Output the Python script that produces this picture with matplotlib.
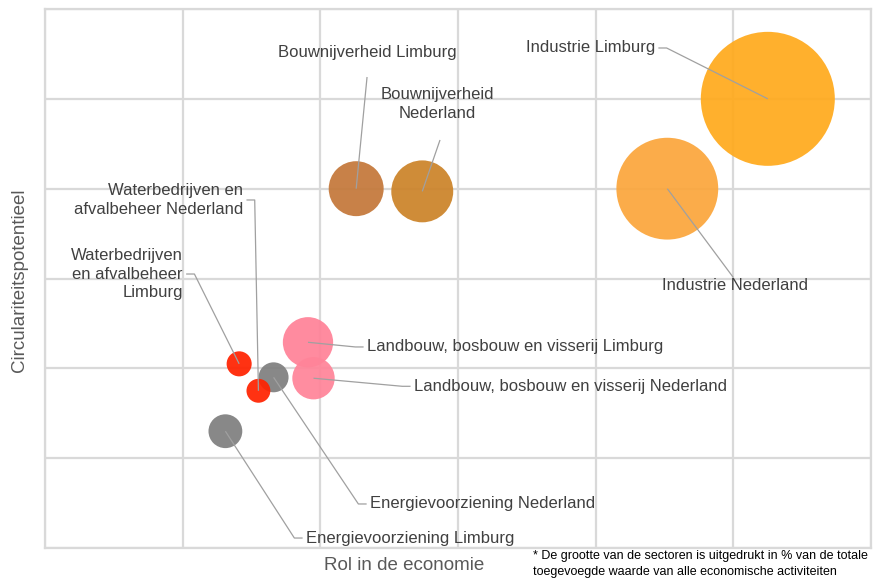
import matplotlib.pyplot as plt
import numpy as np

plt.rcParams["font.family"] = ["Liberation Sans", "DejaVu Sans"]

# Sectoren: rol in de economie (x), circulariteitspotentieel (y), aandeel in toegevoegde waarde (%)
sectoren = [
    "Industrie Limburg",
    "Industrie Nederland",
    "Bouwnijverheid Limburg",
    "Bouwnijverheid\nNederland",
    "Landbouw, bosbouw en visserij Limburg",
    "Landbouw, bosbouw en visserij Nederland",
    "Energievoorziening Nederland",
    "Energievoorziening Limburg",
    "Waterbedrijven\nen afvalbeheer\nLimburg",
    "Waterbedrijven en\nafvalbeheer Nederland",
]
rol = [5.25, 4.52, 2.26, 2.74, 1.91, 1.95, 1.66, 1.31, 1.41, 1.55]
potentieel = [5.0, 4.0, 4.0, 3.97, 2.29, 1.89, 1.90, 1.30, 2.05, 1.75]
aandeel = [22.0, 12.7, 3.7, 4.7, 3.1, 2.2, 1.1, 1.4, 0.77, 0.7]

kleuren = ["#FFAA1D", "#FBA63C", "#C4783A", "#CC8329", "#FF8298",
           "#FF8499", "#7F7F7F", "#7F7F7F", "#FF2200", "#FF2200"]

# label: positie (data), uitlijning, beginpunt leader (None = zijkant met stukje horizontaal)
labels = [
    ((4.43, 5.566), "right", None),
    ((5.01, 2.917), "center", (5.0, 3.01)),
    ((2.339, 5.52), "center", (2.339, 5.243)),
    ((2.847, 4.943), "center", (2.869, 4.542)),
    ((2.339, 2.238), "left", None),
    ((2.68, 1.80), "left", None),
    ((2.361, 0.49), "left", None),
    ((1.896, 0.111), "left", None),
    ((1.0, 3.05), "right", None),
    ((1.438, 3.874), "right", None),
]

fig = plt.figure(figsize=(8.78, 5.81), dpi=100)
ax = fig.add_axes([0.0513, 0.0568, 0.9408, 0.9277])

ax.set_xlim(0, 6)
ax.set_ylim(0, 6)
ax.set_xticks(np.arange(0, 7))
ax.set_yticks(np.arange(0, 7))
ax.tick_params(length=0, labelbottom=False, labelleft=False)
ax.grid(True, color="#D9D9D9", linewidth=1.6)
ax.set_axisbelow(True)
for s in ax.spines.values():
    s.set_color("#D9D9D9")
    s.set_linewidth(1.6)

# bubbelgrootte: oppervlak evenredig met aandeel
r_px = 67 * np.sqrt(np.array(aandeel) / 22.0)
sizes = (2 * r_px * 0.72) ** 2
ax.scatter(rol, potentieel, s=sizes, c=kleuren, alpha=0.93, linewidths=0, zorder=3)

gap = 0.025
stub = 0.06
for naam, x, y, (pos, ha, start) in zip(sectoren, rol, potentieel, labels):
    ax.text(pos[0], pos[1], naam, ha=ha, va="center", fontsize=12,
            color="#404040", linespacing=1.3, zorder=5,
            multialignment=ha if ha != "center" else "center")
    if start is None:
        sign = 1 if ha == "right" else -1
        xs = [pos[0] + sign * gap, pos[0] + sign * (gap + stub), x]
        ys = [pos[1], pos[1], y]
    else:
        xs = [start[0], x]
        ys = [start[1], y]
    ax.plot(xs, ys, color="#A0A0A0", lw=0.9, zorder=4, solid_capstyle="butt")

fig.text(404 / 878, 1 - 565 / 581, "Rol in de economie", ha="center", va="center",
         fontsize=13.5, color="#595959")
fig.text(20 / 878, 1 - 280 / 581, "Circulariteitspotentieel", ha="center", va="center",
         rotation=90, fontsize=13.5, color="#595959")
fig.text(533 / 878, 1 - 564 / 581,
         "* De grootte van de sectoren is uitgedrukt in % van de totale\n"
         "toegevoegde waarde van alle economische activiteiten",
         ha="left", va="center", fontsize=9, color="#000000", linespacing=1.4)

fig.savefig("out.png", dpi=100)
